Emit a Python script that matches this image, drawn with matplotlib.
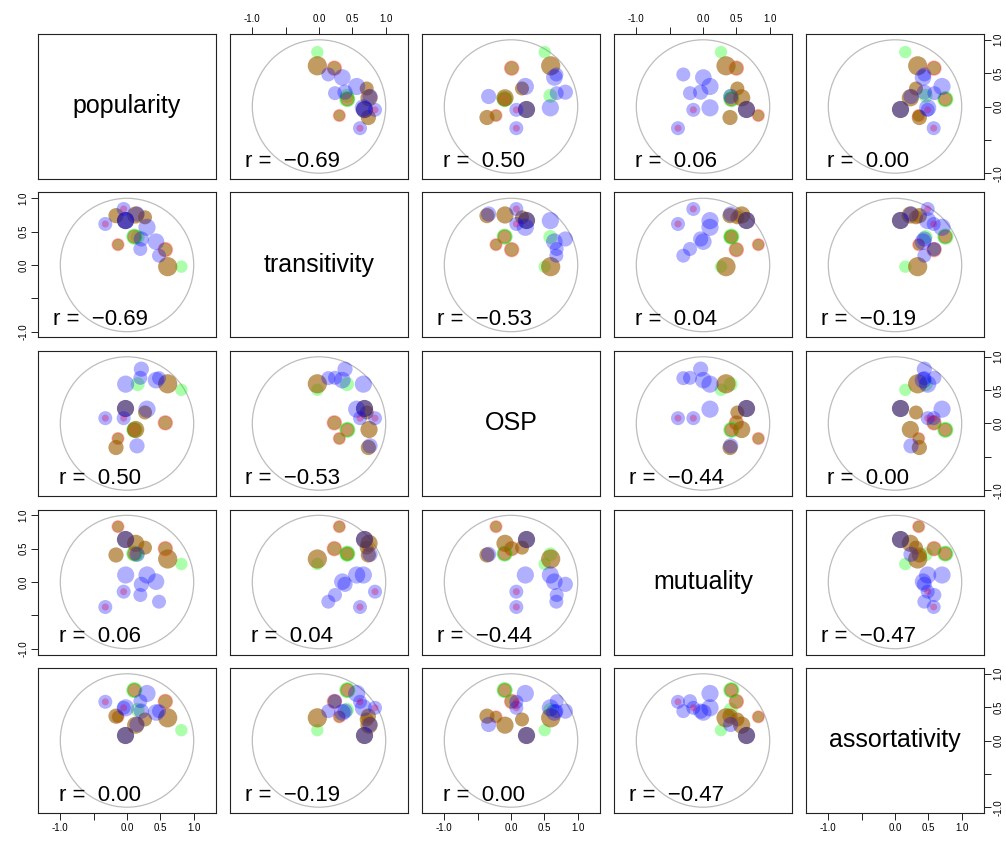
import matplotlib
matplotlib.use("Agg")
import matplotlib.pyplot as plt
from matplotlib.patches import Circle

plt.rcParams['font.family'] = ['Liberation Sans', 'DejaVu Sans']

variables = ['popularity', 'transitivity', 'OSP', 'mutuality', 'assortativity']

popularity    = [0.815, 0.61, 0.575, 0.48, 0.435, 0.30, 0.27, 0.215, 0.20, 0.15, 0.16, 0.11, -0.02, -0.035, -0.05, -0.135, -0.165, -0.325, 0.13]
transitivity  = [-0.025, -0.025, 0.23, 0.14, 0.35, 0.565, 0.715, 0.39, 0.24, 0.765, 0.42, 0.425, 0.665, 0.68, 0.84, 0.305, 0.74, 0.615, 0.75]
osp           = [0.505, 0.595, 0.01, 0.68, 0.65, 0.215, 0.165, 0.815, 0.685, -0.335, 0.59, -0.095, 0.59, 0.225, 0.08, -0.225, -0.36, 0.08, -0.09]
mutuality     = [0.27, 0.345, 0.5, -0.295, 0.005, 0.105, 0.515, -0.035, -0.195, 0.415, 0.415, 0.425, 0.105, 0.64, -0.145, 0.83, 0.405, -0.375, 0.58]
assortativity = [0.155, 0.34, 0.585, 0.44, 0.42, 0.705, 0.315, 0.44, 0.59, 0.24, 0.46, 0.755, 0.49, 0.08, 0.49, 0.355, 0.365, 0.58, 0.23]

kind   = ['green', 'brown', 'brown', 'blue', 'blue', 'blue', 'brown', 'blue', 'blue', 'blue',
          'green', 'brown', 'blue', 'dark', 'blue', 'brown', 'brown', 'blue', 'brown']
accent = ['', '', 'redrim', '', '', '', '', '', '', '',
          '', 'greenrim', '', '', 'reddot', 'redrim', '', 'reddot', '']
radius_px = [6.2, 9.6, 7.0, 7.0, 8.3, 8.6, 7.0, 7.6, 7.0, 7.6,
             7.0, 7.0, 8.6, 8.6, 7.0, 5.8, 7.6, 7.0, 8.6]

r_labels = {(0, 1): '\u22120.69', (0, 2): '0.50', (0, 3): '0.06', (0, 4): '0.00',
            (1, 2): '\u22120.53', (1, 3): '0.04', (1, 4): '\u22120.19',
            (2, 3): '\u22120.44', (2, 4): '0.00', (3, 4): '\u22120.47'}

tick_vals = [-1.0, -0.5, 0.0, 0.5, 1.0]
tick_text = ['-1.0', '', '0.0', '0.5', '1.0']

data = [popularity, transitivity, osp, mutuality, assortativity]

colors = {
    'blue': (0.0, 0.0, 1.0, 0.31),
    'green': (0.0, 1.0, 0.0, 0.33),
    'brown': (155/255, 94/255, 0.0, 0.62),
    'dark': (62/255, 36/255, 105/255, 0.70),
}
order = ['green', 'brown', 'dark', 'blue']

W, H = 1006, 844
fig = plt.figure(figsize=(W / 100, H / 100), dpi=100)
col_x = [38, 230, 422, 614, 806]
row_y = [34, 192.5, 351, 509.5, 668]
pw, ph = 178, 145
unit = 66.7
xl = pw / 2 / unit
yl = ph / 2 / unit


def s_of(rpx):
    d = 2 * rpx * 72 / 100
    return d * d


for i in range(5):
    for j in range(5):
        ax = fig.add_axes([col_x[j] / W, 1 - (row_y[i] + ph) / H, pw / W, ph / H])
        ax.set_xlim(-xl, xl)
        ax.set_ylim(-yl, yl)
        for sp in ax.spines.values():
            sp.set_linewidth(0.8)
            sp.set_color('#222222')
        ax.set_xticks([])
        ax.set_yticks([])
        ax.tick_params(direction='out', length=5, width=0.7, labelsize=7,
                       color='#222222', pad=2)
        if i == 0 and j % 2 == 1:
            ax.xaxis.set_ticks_position('top')
            ax.set_xticks(tick_vals)
            ax.set_xticklabels(tick_text)
        if i == 4 and j % 2 == 0:
            ax.xaxis.set_ticks_position('bottom')
            ax.set_xticks(tick_vals)
            ax.set_xticklabels(tick_text)
        if j == 0 and i % 2 == 1:
            ax.yaxis.set_ticks_position('left')
            ax.set_yticks(tick_vals)
            ax.set_yticklabels(tick_text, rotation=90, va='center')
        if j == 4 and i % 2 == 0:
            ax.yaxis.set_ticks_position('right')
            ax.set_yticks(tick_vals)
            ax.set_yticklabels(tick_text, rotation=90, va='center')

        if i == j:
            ax.text(0, 0, variables[i], ha='center', va='center', fontsize=18)
            continue

        ax.add_patch(Circle((0, 0), 1.0, fill=False, ec='#bdbdbd', lw=0.9))
        xs = data[j]
        ys = data[i]
        for k in order:
            idx = [n for n in range(len(xs)) if kind[n] == k]
            if not idx:
                continue
            ecs = []
            lws = []
            for n in idx:
                if accent[n] == 'redrim':
                    ecs.append((1.0, 0.25, 0.25, 0.35)); lws.append(1.1)
                elif accent[n] == 'greenrim':
                    ecs.append((0.0, 0.9, 0.0, 0.45)); lws.append(1.4)
                else:
                    ecs.append('none'); lws.append(0)
            ax.scatter([xs[n] for n in idx], [ys[n] for n in idx],
                       s=[s_of(radius_px[n]) for n in idx], c=[colors[k]] * len(idx),
                       edgecolors=ecs, linewidths=lws)
        idx = [n for n in range(len(xs)) if accent[n] == 'reddot']
        ax.scatter([xs[n] for n in idx], [ys[n] for n in idx],
                   s=[s_of(radius_px[n] * 0.5) for n in idx],
                   c=[(0.85, 0.0, 0.35, 0.33)] * len(idx), linewidths=0)

        a, b = min(i, j), max(i, j)
        ax.text(-0.40, -0.90, 'r =  ' + r_labels[(a, b)], ha='center', va='baseline',
                fontsize=16)

fig.savefig('out.png', dpi=100)
